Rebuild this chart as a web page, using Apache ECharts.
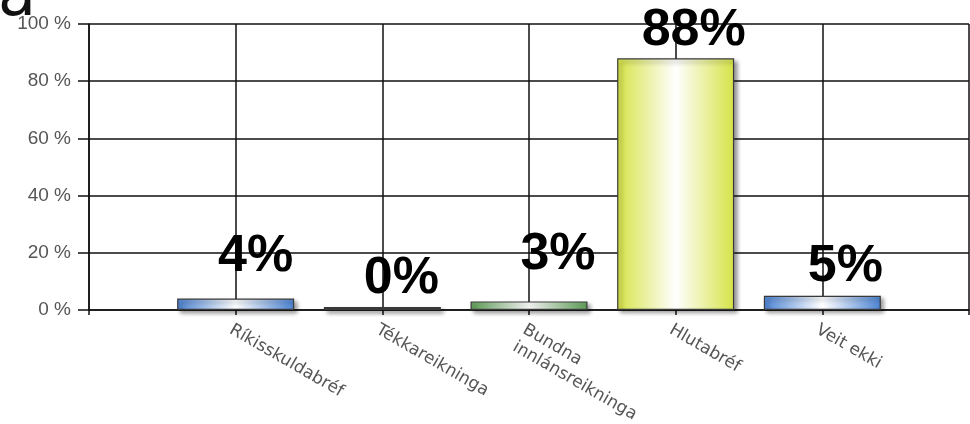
<!DOCTYPE html>
<html>
<head>
<meta charset="utf-8">
<script src="https://cdn.jsdelivr.net/npm/echarts@6/dist/echarts.min.js"></script>
<style>
  html, body { margin: 0; padding: 0; background: #fff; }
  #main { width: 970px; height: 424px; }
</style>
</head>
<body>
<div id="main"></div>
<script>
// categories (blank slots at both ends so the bars sit on the inner ticks)
const categories = ["", "Ríkisskuldabréf", "Tékkareikninga", "Bundna\ninnlánsreikninga", "Hlutabréf", "Veit ekki", ""];
const shares = ["-", 4, 0, 3, 88, 5, "-"];
const yTicks = [0, 20, 40, 60, 80, 100];

// bar colours (edge colour of the horizontal gradient)
const barColors = [null, "#4d84d4", "#3a3a3a", "#62a35a", "#d6e347", "#4d84d4", null];
// label nudges [dx, dy]
const labelNudge = [null, [20, -11], [19, 3], [29, -16], [18, 3], [23, 2], null];

function grad(c) {
  return new echarts.graphic.LinearGradient(0, 0, 1, 0, [
    { offset: 0, color: c },
    { offset: 0.5, color: "#ffffff" },
    { offset: 1, color: c }
  ]);
}

const myChart = echarts.init(document.getElementById("main"));
myChart.setOption({
  animation: false,
  title: {
    text: "a",
    left: -7,
    top: -37,
    textStyle: { fontSize: 62, fontWeight: "normal", color: "#111", fontFamily: "DejaVu Sans" }
  },
  grid: { left: 89, top: 24, right: 1, bottom: 114, outerBoundsMode: "none" },
  xAxis: {
    type: "category",
    data: categories,
    boundaryGap: false,
    axisLine: { lineStyle: { color: "#111", width: 1.5 } },
    axisTick: { show: true, length: 5, lineStyle: { color: "#111", width: 1.5 } },
    splitLine: { show: true, lineStyle: { color: "#111", width: 1.5 } },
    axisLabel: {
      rotate: -30,
      margin: 10,
      interval: 0,
      color: "#555",
      fontSize: 17,
      fontFamily: "DejaVu Sans",
      lineHeight: 20,
      verticalAlign: "top"
    }
  },
  yAxis: {
    type: "value",
    min: 0,
    max: 100,
    interval: 20,
    axisLine: { show: true, lineStyle: { color: "#111", width: 1.5 } },
    axisTick: { show: true, length: 11, lineStyle: { color: "#111", width: 1.5 } },
    splitLine: { lineStyle: { color: "#111", width: 1.5 } },
    axisLabel: {
      formatter: "{value} %",
      margin: 18,
      color: "#555",
      fontSize: 19,
      fontFamily: "Liberation Sans"
    }
  },
  series: [
    {
      type: "bar",
      barWidth: 117,
      barMinHeight: 3,
      data: shares.map((v, i) => {
        if (v === "-") return v;
        return {
          value: v,
          itemStyle: { color: v === 0 ? barColors[i] : grad(barColors[i]) },
          label: { offset: labelNudge[i] }
        };
      }),
      itemStyle: {
        borderColor: "#3a3a3a",
        borderWidth: 1.2,
        shadowColor: "rgba(0,0,0,0.4)",
        shadowBlur: 4,
        shadowOffsetX: 3,
        shadowOffsetY: 3
      },
      label: {
        show: true,
        position: "top",
        formatter: "{c}%",
        color: "#000",
        fontSize: 52,
        fontWeight: "bold",
        fontFamily: "Liberation Sans"
      }
    }
  ]
});
</script>
</body>
</html>
